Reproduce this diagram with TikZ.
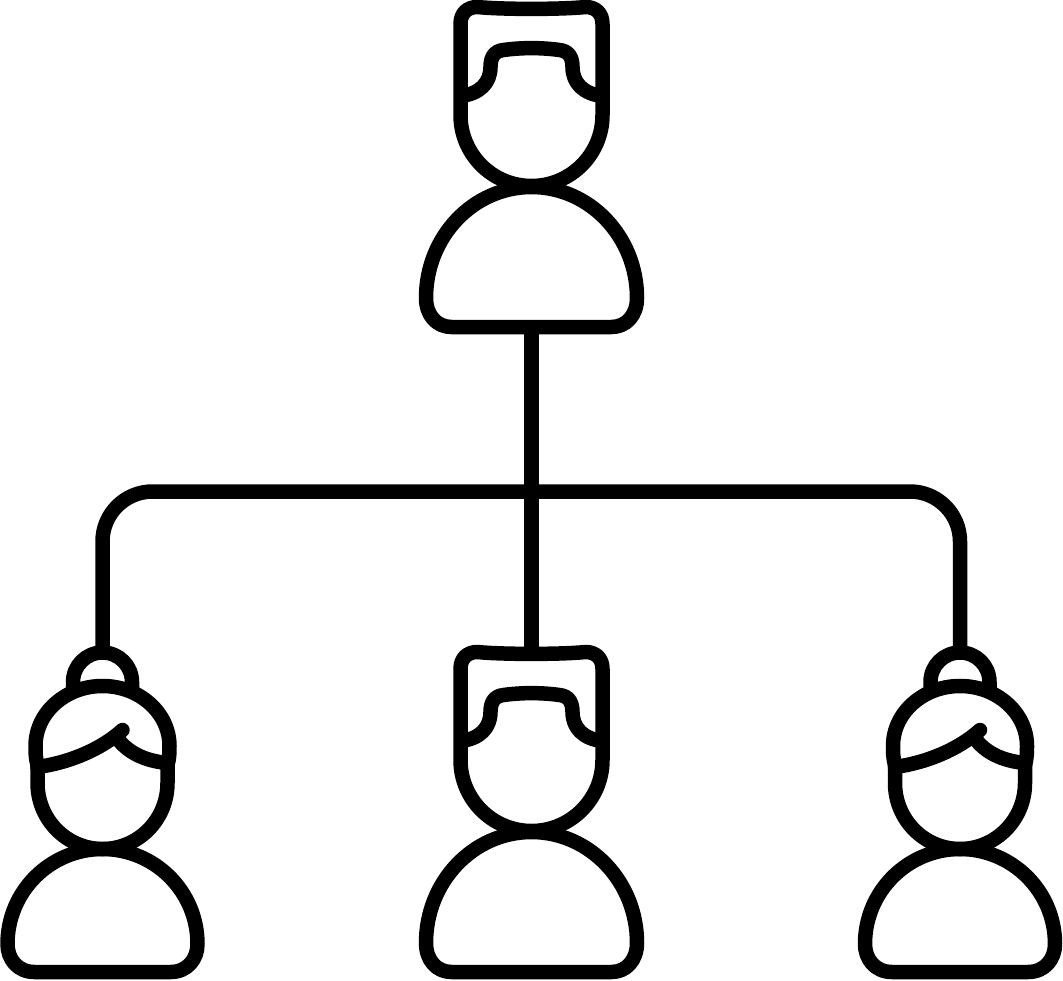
\documentclass[tikz,border=0pt]{standalone}
\usepackage{amsmath,latexsym,amssymb}

\begin{document}
\begin{tikzpicture}[
		x=1pt, y=-1pt,
		main/.style = {draw=black, line width=14.5pt, line join=round},
		man/.pic = {
			\draw[main] (-71,115) -- (-71,24) .. controls (-71,13) and (-64,7) .. (-54,7)
				.. controls (-30,9.5) and (30,9.5) .. (54,7)
				.. controls (64,7) and (71,13) .. (71,24) -- (71,115)
				arc[start angle=0, end angle=180, radius=71] -- cycle;
			\draw[main] (-71,96) .. controls (-52,94) and (-41,83) .. (-41,67)
				.. controls (-41,57) and (-37,51) .. (-28,50)
				.. controls (-10,47.5) and (10,47.5) .. (28,50)
				.. controls (37,51) and (41,57) .. (41,67)
				.. controls (41,83) and (52,94) .. (71,96);
			\draw[main] (-105.5,298) arc[start angle=180, end angle=360, x radius=105.5, y radius=111]
				.. controls (105.5,315) and (95,327) .. (80,327) -- (-80,327)
				.. controls (-95,327) and (-105.5,315) .. (-105.5,298) -- cycle;
		},
		woman/.pic = {
			\draw[main] (-29.5,44) -- (-29.5,32) arc[start angle=180, end angle=360, radius=29.5] -- (29.5,44);
			\draw[main] (-65,115) .. controls (-67,108) and (-67,102) .. (-67,96)
				arc[start angle=180, end angle=360, x radius=67, y radius=60]
				.. controls (67,102) and (67,108) .. (65,115);
			\draw[main] (-65,113) -- (-65,133) arc[start angle=180, end angle=0, x radius=65, y radius=66] -- (65,113);
			\draw[main, line cap=round] (-65,117) .. controls (-35,113) and (-2,100) .. (20,80);
			\draw[main] (14,87) .. controls (24,102) and (42,111) .. (65,113);
			\draw[main] (-95,294) arc[start angle=180, end angle=360, radius=95]
				.. controls (95,309) and (85,322) .. (68,322) -- (-68,322)
				.. controls (-85,322) and (-95,309) .. (-95,294) -- cycle;
		}
	]
	\useasboundingbox (0,0) rectangle (1063,980);
	\fill[white] (0,0) rectangle (1063,980);

	\pic (boss) at (531.5,0) {man};
	\pic (mid) at (531.5,645) {man};
	\pic (lady) at (102.5,650) {woman};
	\pic (ladyr) at (960,650) {woman};

	\coordinate (bosspt) at (531.5,327);
	\coordinate (midpt) at (531.5,652);
	\coordinate (ladypt) at (102.5,652);
	\coordinate (ladyrpt) at (960,652);
	\coordinate (turnl) at (102.5,491.5);
	\coordinate (turnr) at (960,491.5);

	\draw[main] (bosspt) -- (midpt);
	\draw[main, rounded corners=50pt] (ladypt) -- (turnl) -- (turnr) -- (ladyrpt);
\end{tikzpicture}
\end{document}
